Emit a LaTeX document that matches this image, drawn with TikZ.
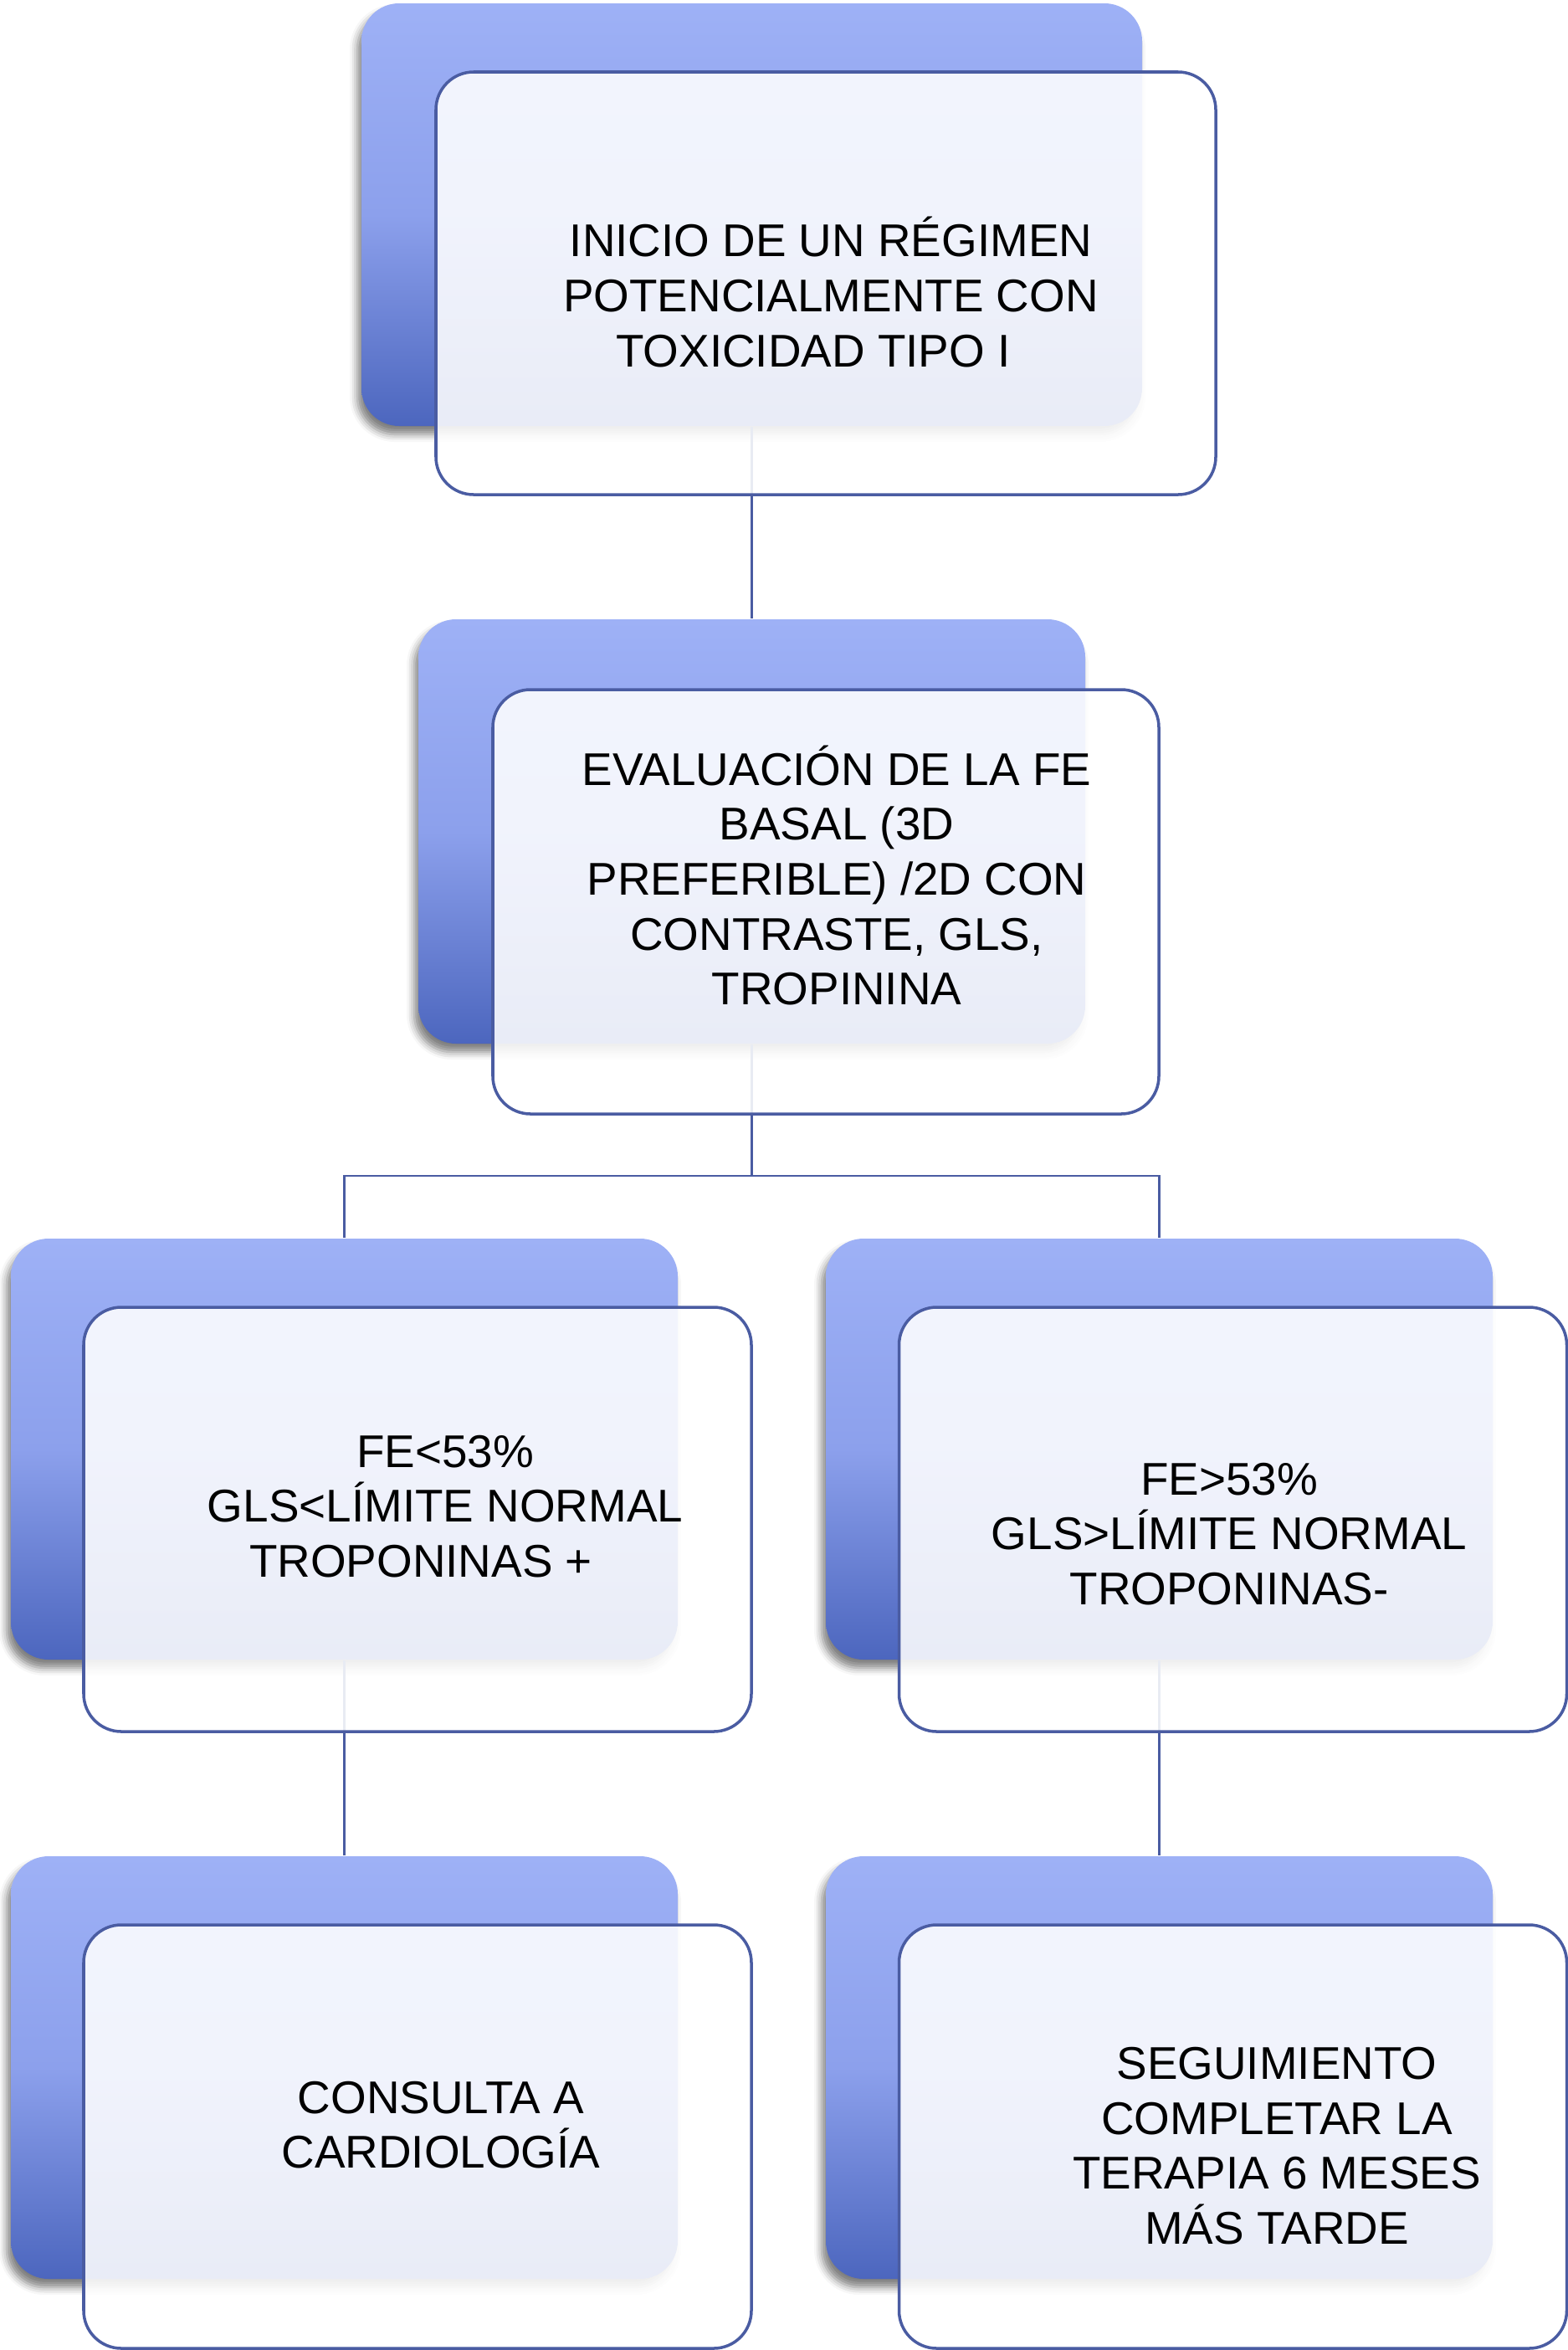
\documentclass[tikz,border=0pt]{standalone}
\usepackage{fontspec}
\setmainfont{Liberation Sans}
\usetikzlibrary{shadows.blur}
\definecolor{bTop}{RGB}{158,177,246}
\definecolor{bMid}{RGB}{140,160,236}
\definecolor{bBot}{RGB}{76,102,190}
\definecolor{lineC}{RGB}{74,92,162}
\tikzset{
 backbox/.style={rectangle, rounded corners=0.45cm, top color=bTop, bottom color=bBot, middle color=bMid, draw=none, inner sep=0pt,
   blur shadow={shadow xshift=-0.05cm, shadow yshift=-0.1cm, shadow blur radius=0.09cm, shadow opacity=50}},
 frontbox/.style={rectangle, rounded corners=0.45cm, draw=lineC, line width=1pt, fill=white, fill opacity=0.88, inner sep=0pt},
 boxtext/.style={font=\fontsize{15.6}{18.7}\selectfont, align=center, text=black, inner sep=0pt},
 conn/.style={draw=lineC, line width=0.8pt}
}
\begin{document}
\begin{tikzpicture}
\useasboundingbox (0,0) rectangle (18.74,-28.08);
% back boxes
\node[backbox, minimum width=9.33cm, minimum height=5.05cm] (b1) at (8.985,-2.565) {};
\node[backbox, minimum width=7.97cm, minimum height=5.07cm] (b2) at (8.985,-9.935) {};
\node[backbox, minimum width=7.97cm, minimum height=5.03cm] (b3) at (4.115,-17.315) {};
\node[backbox, minimum width=7.97cm, minimum height=5.03cm] (b4) at (13.855,-17.315) {};
\node[backbox, minimum width=7.97cm, minimum height=5.05cm] (b5) at (4.115,-24.705) {};
\node[backbox, minimum width=7.97cm, minimum height=5.05cm] (b6) at (13.855,-24.705) {};
% connectors
\coordinate (j) at (8.985,-14.05);
\draw[conn] (b1.south) -- (b2.north);
\draw[conn] (b2.south) -- (j);
\draw[conn] (j) -| (b3.north);
\draw[conn] (j) -| (b4.north);
\draw[conn] (b3.south) -- (b5.north);
\draw[conn] (b4.south) -- (b6.north);
% front boxes
\node[frontbox, minimum width=9.32cm, minimum height=5.05cm] (f1) at (9.87,-3.385) {};
\node[frontbox, minimum width=7.96cm, minimum height=5.07cm] (f2) at (9.87,-10.775) {};
\node[frontbox, minimum width=7.98cm, minimum height=5.07cm] (f3) at (4.99,-18.155) {};
\node[frontbox, minimum width=7.98cm, minimum height=5.07cm] (f4) at (14.735,-18.155) {};
\node[frontbox, minimum width=7.98cm, minimum height=5.06cm] (f5) at (4.99,-25.53) {};
\node[frontbox, minimum width=7.98cm, minimum height=5.06cm] (f6) at (14.735,-25.53) {};
% texts
\node[boxtext] (t1) at (9.93,-3.49) {INICIO DE UN RÉGIMEN\\POTENCIALMENTE CON\\TOXICIDAD TIPO I\hspace*{0.42cm}};
\node[boxtext] (t2) at (10.0,-10.46) {EVALUACIÓN DE LA FE\\BASAL (3D\\PREFERIBLE) /2D CON\\CONTRASTE, GLS,\\TROPININA};
\node[boxtext] (t3) at (5.32,-18.0) {FE<53\%\\GLS<LÍMITE NORMAL\\TROPONINAS +\hspace*{0.58cm}};
\node[boxtext] (t4) at (14.69,-18.33) {FE>53\%\\GLS>LÍMITE NORMAL\\TROPONINAS-};
\node[boxtext] (t5) at (5.27,-25.39) {CONSULTA A\\CARDIOLOGÍA};
\node[boxtext] (t6) at (15.26,-25.64) {SEGUIMIENTO\\COMPLETAR LA\\TERAPIA 6 MESES\\MÁS TARDE};
\end{tikzpicture}
\end{document}
